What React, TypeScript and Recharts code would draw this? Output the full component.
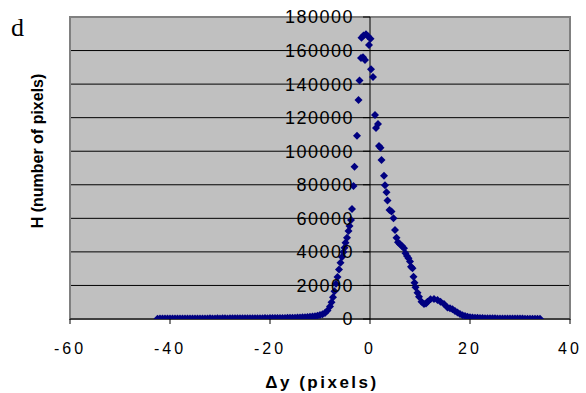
import React from "react";
import {
  ScatterChart,
  Scatter,
  XAxis,
  YAxis,
  CartesianGrid,
  ReferenceLine,
  ReferenceArea,
  Label,
} from "recharts";

// ---- data ----
const xTicks = [-60, -40, -20, 0, 20, 40];
const yTicks = [0, 20000, 40000, 60000, 80000, 100000, 120000, 140000, 160000, 180000];

const dyValues = [
  -42.5, -42, -41.5, -41, -40.5, -40, -39.5, -39, -38.5, -38, -37.5, -37, -36.5, -36, -35.5, -35,
  -34.5, -34, -33.5, -33, -32.5, -32, -31.5, -31, -30.5, -30, -29.5, -29, -28.5, -28, -27.5, -27,
  -26.5, -26, -25.5, -25, -24.5, -24, -23.5, -23, -22.5, -22, -21.5, -21, -20.5, -20, -19.5, -19,
  -18.5, -18, -17.5, -17, -16.5, -16, -15.5, -15, -14.5, -14, -13.5, -13, -12.5, -12, -11.5, -11,
  -10.5, -10,
  -9.5, -9.0, -8.5, -8.0, -7.7, -7.4, -7.1, -6.8, -6.5, -6.2, -5.9, -5.6, -5.3, -5.1, -4.9, -4.6,
  -4.3, -4.1, -3.8, -3.6, -3.3, -3.1, -2.6, -2.3, -2.1, -1.8, -1.7, -1.4, -1.3, -1.0, -0.8, -0.4,
  -0.2, 0.1, 0.2, 0.6, 1.0, 1.2, 1.6, 1.8, 2.1, 2.3, 2.8, 3.0, 3.3, 3.5, 3.9, 4.3, 4.7, 5.0, 5.3,
  5.6, 6.0, 6.4, 6.8, 7.1, 7.4, 7.7, 8.0, 8.2, 8.5, 8.7, 8.9, 9.1, 9.5, 9.8, 10.3, 10.8, 11.2,
  11.5, 12.1, 12.8, 13.5, 14.1, 14.8, 15.5, 16.0, 16.5, 17.0, 17.5, 18.0, 18.5, 19.0, 19.5, 20.0,
  20.5,
  21, 21.5, 22, 22.5, 23, 23.5, 24, 24.5, 25, 25.5, 26, 26.5, 27, 27.5, 28, 28.5, 29, 29.5, 30,
  30.5, 31, 31.5, 32, 32.5, 33, 33.5, 34,
];

const hValues = [
  200, 250, 300, 250, 300, 350, 300, 250, 300, 350, 300, 300, 350, 300, 300, 350,
  300, 350, 350, 300, 350, 400, 350, 350, 400, 350, 400, 400, 350, 400, 400, 450,
  400, 400, 450, 450, 400, 450, 500, 450, 500, 500, 500, 550, 500, 550, 550, 600,
  600, 600, 650, 650, 700, 700, 750, 800, 850, 900, 1000, 1100, 1200, 1300, 1500, 1700,
  2000, 2400,
  2800, 3600, 5000, 7500, 10000, 13000, 16500, 21000, 25000, 29500, 33500, 37000, 40000, 42500, 45500, 48500,
  52500, 55500, 59000, 65500, 79300, 90800, 109200, 130500, 142200, 155600, 167600, 156000, 168900, 154400, 169700, 168500,
  163300, 167000, 148800, 144200, 121600, 113800, 116200, 103100, 102100, 94800, 85400, 79700, 75500, 70600, 65000, 64000, 60000, 53000, 48500,
  45800, 44500, 43500, 42100, 39200, 37500, 36200, 34200, 31200, 30200, 25200, 21600, 18900, 15700, 13300, 10300, 8900, 9300,
  10300, 11700, 11900, 11300, 10300, 8900, 6900, 6400, 5800, 4800, 3800, 3000, 2300, 1800, 1400, 1100,
  900,
  800, 700, 600, 550, 500, 450, 450, 400, 400, 350, 350, 300, 300, 300, 300, 250, 250, 250, 250,
  250, 200, 200, 200, 200, 200, 200, 200,
];

const data = dyValues.map((dy, i) => ({ dy, h: hValues[i] }));

// ---- layout ----
const W = 586;
const H = 393;
const PLOT_LEFT = 70;
const PLOT_RIGHT = 570;
const X_MIN = -60;
const X_MAX = 40;
const AXIS_X = PLOT_LEFT + ((0 - X_MIN) / (X_MAX - X_MIN)) * (PLOT_RIGHT - PLOT_LEFT);
const SANS = '"Liberation Sans", Arial, sans-serif';

const Diamond = (props: any) => {
  const { cx, cy } = props;
  if (cx == null || cy == null) return null;
  const r = 4;
  return (
    <polygon
      points={`${cx},${cy - r} ${cx + r},${cy} ${cx},${cy + r} ${cx - r},${cy}`}
      fill="#000080"
    />
  );
};

const YTick = (props: any) => {
  const { y, payload } = props;
  return (
    <g>
      <line x1={AXIS_X - 7} x2={AXIS_X} y1={y} y2={y} stroke="#000" strokeWidth={1} />
      <text
        x={AXIS_X - 16}
        y={y}
        dy="0.36em"
        textAnchor="end"
        fontFamily={SANS}
        fontSize={18}
        letterSpacing={1.5}
        fill="#000"
      >
        {payload.value}
      </text>
    </g>
  );
};

export default function App() {
  return (
    <div style={{ position: "absolute", left: 0, top: 0, width: W, height: H, background: "#fff" }}>
      <div
        style={{
          position: "absolute",
          left: 11,
          top: 14,
          fontFamily: '"Liberation Serif", "Times New Roman", serif',
          fontSize: 26,
          lineHeight: "28px",
          color: "#000",
        }}
      >
        d
      </div>
      <ScatterChart width={W} height={H} margin={{ top: 17, right: W - PLOT_RIGHT, bottom: 0, left: 0 }}>
        <CartesianGrid horizontal={true} vertical={false} stroke="#000" fill="#C0C0C0" />
        <ReferenceArea
          x1={X_MIN}
          x2={X_MAX}
          y1={0}
          y2={180000}
          fill="none"
          fillOpacity={0}
          stroke="#808080"
          strokeWidth={2}
        />
        <XAxis
          type="number"
          dataKey="dy"
          domain={[X_MIN, X_MAX]}
          ticks={xTicks}
          interval={0}
          height={74}
          tickSize={5}
          tickMargin={19}
          stroke="#000"
          tick={{ fill: "#000", fontSize: 16, fontFamily: SANS, letterSpacing: 3 }}
          allowDataOverflow
        >
          <Label
            content={(p: any) => {
              const vb = p.viewBox || {};
              return (
                <text
                  x={vb.x + vb.width / 2 + 2}
                  y={388}
                  textAnchor="middle"
                  fontFamily={SANS}
                  fontWeight="bold"
                  fontSize={17}
                  letterSpacing={2.5}
                  fill="#000"
                >
                  Δy (pixels)
                </text>
              );
            }}
          />
        </XAxis>
        <YAxis
          type="number"
          dataKey="h"
          domain={[0, 180000]}
          ticks={yTicks}
          interval={0}
          width={PLOT_LEFT}
          axisLine={false}
          tickLine={false}
          tick={<YTick />}
          allowDataOverflow
        >
          <Label
            content={() => (
              <text
                x={37}
                y={151}
                transform="rotate(-90 37 151)"
                textAnchor="middle"
                dominantBaseline="central"
                fontFamily={SANS}
                fontWeight="bold"
                fontSize={16}
                fill="#000"
              >
                H (number of pixels)
              </text>
            )}
          />
        </YAxis>
        <ReferenceLine x={0} stroke="#000" strokeWidth={1} />
        <Scatter data={data} shape={Diamond} isAnimationActive={false} />
      </ScatterChart>
    </div>
  );
}
